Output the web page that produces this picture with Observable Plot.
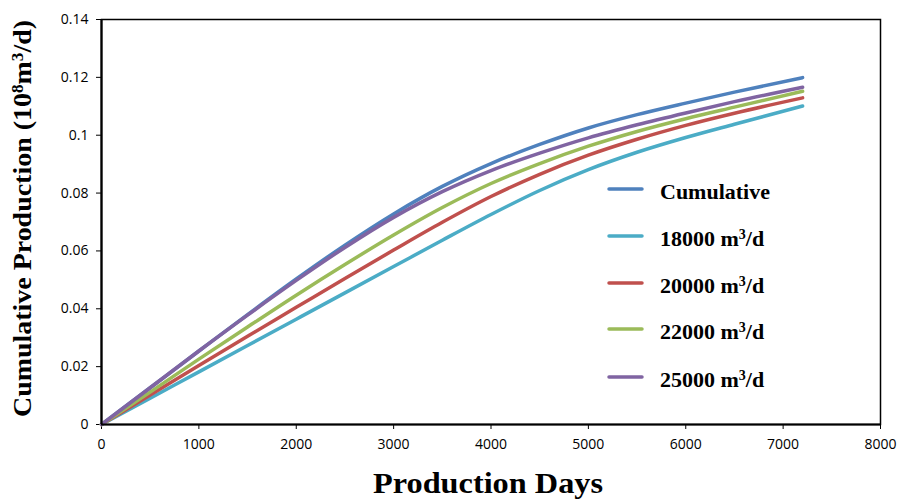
<!DOCTYPE html>
<html>
<head>
<meta charset="utf-8">
<script src="https://cdn.jsdelivr.net/npm/d3@7"></script>
<script src="https://cdn.jsdelivr.net/npm/@observablehq/plot@0.6"></script>
<style>
  html, body { margin: 0; padding: 0; background: #fff; }
  #chart { width: 898px; height: 501px; }
</style>
</head>
<body>
<div id="chart"></div>
<script>
const days = [0, 500, 1000, 1500, 2000, 2500, 3000, 3500, 4000, 4500, 5000, 5500, 6000, 6500, 7200];
const cumulative = [0, 0.0127, 0.0254, 0.0380, 0.0503, 0.0620, 0.0728, 0.0823, 0.0902, 0.0968, 0.1025, 0.1071, 0.1111, 0.1149, 0.1199];
const q18000 = [0, 0.0091, 0.0182, 0.0273, 0.0364, 0.0455, 0.0546, 0.0637, 0.0726, 0.0809, 0.0881, 0.0941, 0.0992, 0.1038, 0.1101];
const q20000 = [0, 0.0102, 0.0204, 0.0305, 0.0405, 0.0505, 0.0603, 0.0699, 0.0788, 0.0865, 0.0931, 0.0986, 0.1034, 0.1076, 0.1129];
const q22000 = [0, 0.0112, 0.0226, 0.0337, 0.0447, 0.0553, 0.0655, 0.0750, 0.0833, 0.0902, 0.0962, 0.1013, 0.1057, 0.1097, 0.1152];
const q25000 = [0, 0.0127, 0.0254, 0.0378, 0.0498, 0.0612, 0.0716, 0.0805, 0.0878, 0.0938, 0.0991, 0.1036, 0.1077, 0.1116, 0.1166];

const seriesNames = ["Cumulative", "18000 m³/d", "20000 m³/d", "22000 m³/d", "25000 m³/d"];
const seriesLabels = [["Cumulative", ""], ["18000 m", "/d"], ["20000 m", "/d"], ["22000 m", "/d"], ["25000 m", "/d"]];
const seriesColors = ["#4F81BD", "#4BACC6", "#C0504D", "#9BBB59", "#8064A2"];
const seriesValues = [cumulative, q18000, q20000, q22000, q25000];

const xTicks = [0, 1000, 2000, 3000, 4000, 5000, 6000, 7000, 8000];
const yTicks = [0, 0.02, 0.04, 0.06, 0.08, 0.10, 0.12, 0.14];

const data = [];
seriesValues.forEach((vals, i) => {
  vals.forEach((v, j) => data.push({series: seriesNames[i], day: days[j], value: v}));
});

const W = 898, H = 501;
const mL = 101, mR = 18, mT = 19, mB = 77;

const plot = Plot.plot({
  width: W,
  height: H,
  marginLeft: mL,
  marginRight: mR,
  marginTop: mT,
  marginBottom: mB,
  style: {fontFamily: "'Liberation Sans Narrow', 'Open Sans', 'Liberation Sans', sans-serif", fontSize: "14px", color: "#000", background: "#fff"},
  x: {domain: [0, 8000], ticks: xTicks, tickFormat: d => String(d), label: null, tickSize: 5, tickPadding: 10},
  y: {domain: [0, 0.14], ticks: yTicks, tickFormat: d => d === 0 ? "0" : String(+d.toFixed(2)), label: null, tickSize: 5, tickPadding: 8},
  color: {domain: seriesNames, range: seriesColors},
  marks: [
    Plot.frame({stroke: "#000", strokeWidth: 1.5}),
    Plot.line(data, {x: "day", y: "value", z: "series", stroke: "series", strokeWidth: 3.5, curve: "monotone-x", strokeLinecap: "round"}),
    Plot.ruleY([0], {stroke: "#000", strokeWidth: 2.2}),
    Plot.ruleX([0], {stroke: "#000", strokeWidth: 2.2})
  ]
});

document.getElementById("chart").appendChild(plot);

const svg = d3.select(plot);
const serif = "'Liberation Serif', 'Times New Roman', serif";

// y-axis title
const yt = svg.append("text")
  .attr("transform", `translate(31, ${(20 + 417) / 2}) rotate(-90)`)
  .attr("text-anchor", "middle")
  .attr("font-family", serif)
  .attr("font-weight", "bold")
  .attr("font-size", 26)
  .attr("textLength", 397)
  .attr("lengthAdjust", "spacingAndGlyphs")
  .attr("fill", "#000");
yt.append("tspan").text("Cumulative Production (10");
yt.append("tspan").attr("font-size", 16).attr("baseline-shift", "super").text("8");
yt.append("tspan").text("m");
yt.append("tspan").attr("font-size", 16).attr("baseline-shift", "super").text("3");
yt.append("tspan").text("/d)");

// x-axis title
svg.append("text")
  .attr("x", 488)
  .attr("y", 493)
  .attr("text-anchor", "middle")
  .attr("font-family", serif)
  .attr("font-weight", "bold")
  .attr("font-size", 30)
  .attr("textLength", 230)
  .attr("lengthAdjust", "spacingAndGlyphs")
  .attr("fill", "#000")
  .text("Production Days");

// legend
const legendRows = [189, 236, 283, 329, 377];
const lg = svg.append("g");
seriesNames.forEach((name, i) => {
  const y = legendRows[i];
  lg.append("line").attr("x1", 609).attr("x2", 642).attr("y1", y).attr("y2", y)
    .attr("stroke", seriesColors[i]).attr("stroke-width", 3.5).attr("stroke-linecap", "round");
  const t = lg.append("text").attr("x", 660).attr("y", y + 10)
    .attr("text-anchor", "start")
    .attr("font-family", serif).attr("font-weight", "bold").attr("font-size", 22).attr("fill", "#000");
  t.append("tspan").text(seriesLabels[i][0]);
  if (seriesLabels[i][1]) {
    t.append("tspan").attr("font-size", 14).attr("baseline-shift", "super").text("3");
    t.append("tspan").text(seriesLabels[i][1]);
  }
});
</script>
</body>
</html>
